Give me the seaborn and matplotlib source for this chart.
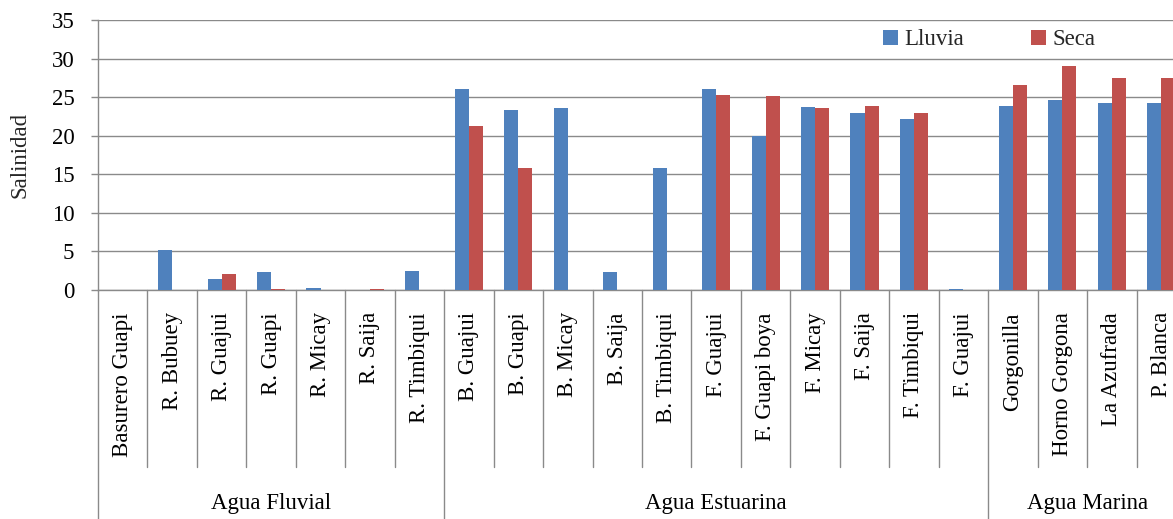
import matplotlib
matplotlib.use("Agg")
import matplotlib.pyplot as plt
import matplotlib.transforms as mtransforms
import numpy as np
import pandas as pd
import seaborn as sns

# ---- data ----
categories = ["Basurero Guapi", "R. Bubuey", "R. Guajui", "R. Guapi", "R. Micay",
              "R. Saija", "R. Timbiqui",
              "B. Guajui", "B. Guapi", "B. Micay", "B. Saija", "B. Timbiqui",
              "F. Guajui", "F. Guapi boya", "F. Micay", "F. Saija", "F. Timbiqui", "F. Guajui",
              "Gorgonilla", "Horno Gorgona", "La Azufrada", "P. Blanca"]
groups = ["Agua Fluvial", "Agua Estuarina", "Agua Marina"]
group_sizes = [7, 11, 4]
lluvia = [0.0, 5.2, 1.4, 2.3, 0.3, 0.0, 2.5,
          26.0, 23.3, 23.6, 2.3, 15.8,
          26.0, 20.0, 23.7, 23.0, 22.2, 0.1,
          23.9, 24.6, 24.2, 24.2]
seca = [0.0, 0.0, 2.1, 0.1, 0.0, 0.1, 0.0,
        21.3, 15.8, 0.0, 0.0, 0.0,
        25.3, 25.1, 23.6, 23.9, 23.0, 0.0,
        26.6, 29.1, 27.5, 27.5]
series = ["Lluvia", "Seca"]
colors = ["#4F81BD", "#C0504D"]
yticks = [0, 5, 10, 15, 20, 25, 30, 35]

n = len(categories)
df = pd.DataFrame({
    "idx": list(range(n)) * 2,
    "Salinidad": lluvia + seca,
    "serie": [series[0]] * n + [series[1]] * n,
})

sns.set_theme(style="white")
plt.rcParams["font.family"] = ["Liberation Serif", "DejaVu Serif"]
FS = 16.5

fig = plt.figure(figsize=(11.73, 5.19), dpi=100)
ax = fig.add_axes([98 / 1173, 229 / 519, 1088 / 1173, 270 / 519])

grid_c = "#8a8a8a"
sns.barplot(data=df, x="idx", y="Salinidad", hue="serie", order=list(range(n)),
            hue_order=series, palette=colors, width=0.57, gap=0, saturation=1,
            edgecolor="none", linewidth=0, ax=ax, zorder=3)

ax.set_xlim(-0.5, n - 0.5)
ax.set_ylim(0, 35)
ax.set_yticks(yticks)
ax.set_yticklabels([str(t) for t in yticks], fontsize=FS)
ax.yaxis.grid(True, color=grid_c, linewidth=1.0)
ax.set_axisbelow(True)
ax.tick_params(axis="y", which="both", left=True, length=5, width=1.0, color=grid_c,
               pad=12, labelcolor="black")

ax.set_xticks(range(n))
ax.set_xticklabels(categories, rotation=90, fontsize=FS, va="top", ha="center")
ax.tick_params(axis="x", length=0, pad=16, labelcolor="black")
ax.set_xlabel("")

ax.set_ylabel("Salinidad", fontsize=FS, va="center")
ax.yaxis.set_label_coords(-78 / 1088, 0.5)

for side in ["top", "right"]:
    ax.spines[side].set_visible(False)
for side in ["left", "bottom"]:
    ax.spines[side].set_color(grid_c)
    ax.spines[side].set_linewidth(1.0)

# multi-level category axis lines
trans = mtransforms.blended_transform_factory(ax.transData, ax.transAxes)
bounds = np.cumsum([0] + group_sizes) - 0.5
for b in range(n + 1):
    pos = b - 0.5
    full = any(np.isclose(pos, bounds))
    ax.plot([pos, pos], [0, -0.9 if full else -0.656], transform=trans,
            color=grid_c, linewidth=1.0, clip_on=False, zorder=1)
for g, lo, hi in zip(groups, bounds[:-1], bounds[1:]):
    ax.text((lo + hi) / 2, -0.79, g, transform=trans, ha="center", va="center",
            fontsize=FS, color="black")

sns.move_legend(ax, "center left", bbox_to_anchor=(785 / 1088, 0.927), ncol=2,
                frameon=False, title=None, fontsize=FS, handlelength=0.65,
                handleheight=0.65, handletextpad=0.3, columnspacing=2.9,
                borderpad=0, borderaxespad=0)

fig.savefig("out.png", dpi=100)
